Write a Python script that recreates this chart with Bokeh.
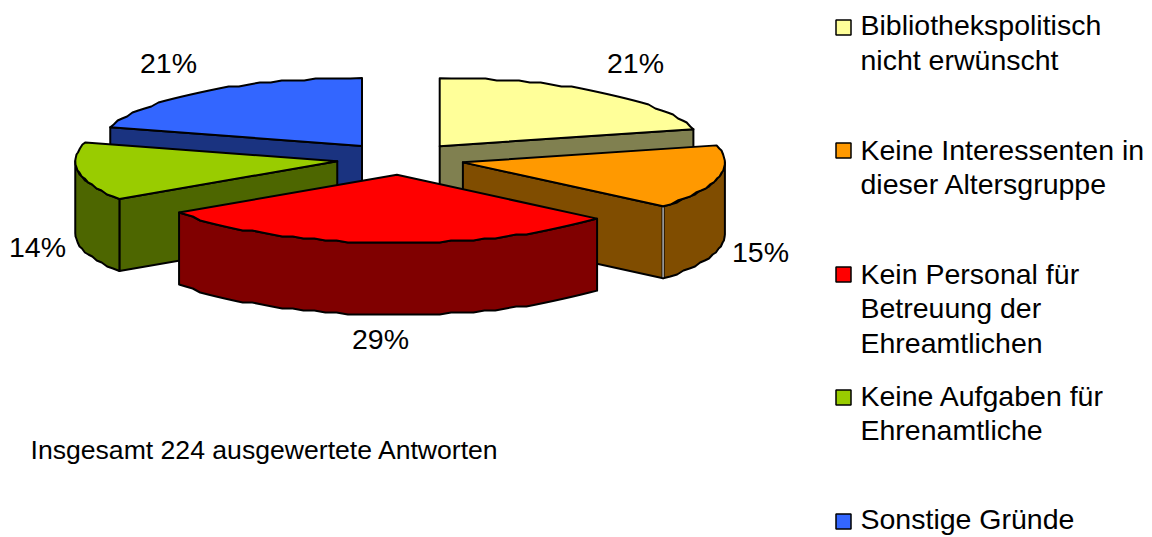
import numpy as np
from bokeh.plotting import figure
from bokeh.models import Range1d
from bokeh.core.properties import value
from bokeh.embed import file_html
from bokeh.resources import INLINE

# data
categories = ["Bibliothekspolitisch\nnicht erwünscht", "Keine Interessenten in\ndieser Altersgruppe",
              "Kein Personal für\nBetreuung der\nEhreamtlichen", "Keine Aufgaben für\nEhrenamtliche", "Sonstige Gründe"]
answers = [47, 34, 66, 31, 46]  # estimated from the slices; total 224 as the note says
top_colors = ["#FFFF99", "#FF9900", "#FF0000", "#99CC00", "#3366FF"]
wall_colors = ["#808050", "#804D00", "#800000", "#4D6600", "#1A3380"]
note = "Insgesamt 224 ausgewertete Antworten"

# layout (page pixels)
CX, CY, RX, RY, DEPTH = 400.0, 158.3, 262.0, 68.0, 72.0
EX, EY = 64.0, 16.0
GRID = 2.0
label_xy = [(635, 62), (760, 251), (380, 338), (37, 246), (168, 62)]
legend_x, legend_box, legend_sq_x = 860, 15, 843
legend_y = [[24, 59], [149, 183], [273, 307, 342], [395, 429], [518]]
legend_sq_y = [27, 150, 274, 397, 521]
LEG_FS, LAB_FS, NOTE_FS = "28.5px", "28.5px", "26.6px"
W, H = 1152, 537

p = figure(width=W, height=H, x_range=Range1d(0, W), y_range=Range1d(H, 0),
           output_backend="svg", toolbar_location=None, min_border=0,
           outline_line_color=None, background_fill_color="white", border_fill_color="white")
p.xaxis.visible = False; p.yaxis.visible = False; p.grid.visible = False

fr = np.array(answers, float) / sum(answers)
cum = np.concatenate([[0], np.cumsum(fr)]) * 2 * np.pi


def arc(cx, cy, a0, a1):
    n = max(2, int(abs(a1 - a0) / np.radians(2.5)) + 1)
    t = np.linspace(a0, a1, n)
    xs = cx + RX * np.sin(t)
    ys = cy - RY * np.cos(t)
    ys[1:-1] = np.round(ys[1:-1] / GRID) * GRID
    return xs, ys


slices = []
for i in range(len(answers)):
    a0, a1 = cum[i], cum[i + 1]
    mid = (a0 + a1) / 2
    ax, ay = CX + EX * np.sin(mid), CY - EY * np.cos(mid)
    slices.append((a0, a1, ax, ay))


def wall_radial(ax, ay, a):
    ex, ey = ax + RX * np.sin(a), ay - RY * np.cos(a)
    return [ax, ex, ex, ax], [ay, ey, ey + DEPTH, ay + DEPTH]


def wall_rim(ax, ay, a0, a1):
    xs, ys = arc(ax, ay, a0, a1)
    return list(xs) + list(xs[::-1]), list(ys) + list((ys + DEPTH)[::-1])


def draw(xs, ys, color, lw=2):
    p.patch(xs, ys, fill_color=color, line_color="black", line_width=lw, line_join="round")


order = [4, 0, 3, 1, 2]
for i in order:
    a0, a1, ax, ay = slices[i]
    if i == 0:
        draw(*wall_radial(ax, ay, a1), wall_colors[i])
    if i == 4:
        draw(*wall_radial(ax, ay, a0), wall_colors[i])
    if i == 1:
        draw(*wall_radial(ax, ay, a1), wall_colors[i])
    if i == 3:
        draw(*wall_radial(ax, ay, a0), wall_colors[i])
    lo, hi = max(a0, np.pi / 2), min(a1, 3 * np.pi / 2)
    if hi > lo:
        draw(*wall_rim(ax, ay, lo, hi), wall_colors[i])
    if i == 1:
        ex, ey = ax + RX * np.sin(a1), ay - RY * np.cos(a1)
        p.line([ex, ex], [ey, ey + DEPTH], line_color="black", line_width=3)
        p.line([ex, ex], [ey + 1, ey + DEPTH - 1], line_color="#E0E0E0", line_width=1.2)
    xs, ys = arc(ax, ay, a0, a1)
    draw([ax] + list(xs), [ay] + list(ys), top_colors[i])

font = value("Liberation Sans")
for (x, y), f in zip(label_xy, fr):
    p.text([x], [y], text=[f"{round(f * 100)}%"], text_font=font, text_font_size=LAB_FS, text_align="center",
           text_baseline="alphabetic", text_color="black")
p.text([30], [449], text=[note], text_font=font, text_font_size=NOTE_FS, text_align="left",
       text_baseline="alphabetic", text_color="black")

for cat, ys, sy, c in zip(categories, legend_y, legend_sq_y, top_colors):
    p.rect([legend_sq_x], [sy], width=legend_box, height=legend_box, fill_color=c, line_color="black", line_width=1.5)
    for line, y in zip(cat.split("\n"), ys):
        p.text([legend_x], [y], text=[line], text_font=font, text_font_size=LEG_FS, text_align="left",
               text_baseline="alphabetic", text_color="black")

open("out.html", "w").write(file_html(p, INLINE))
